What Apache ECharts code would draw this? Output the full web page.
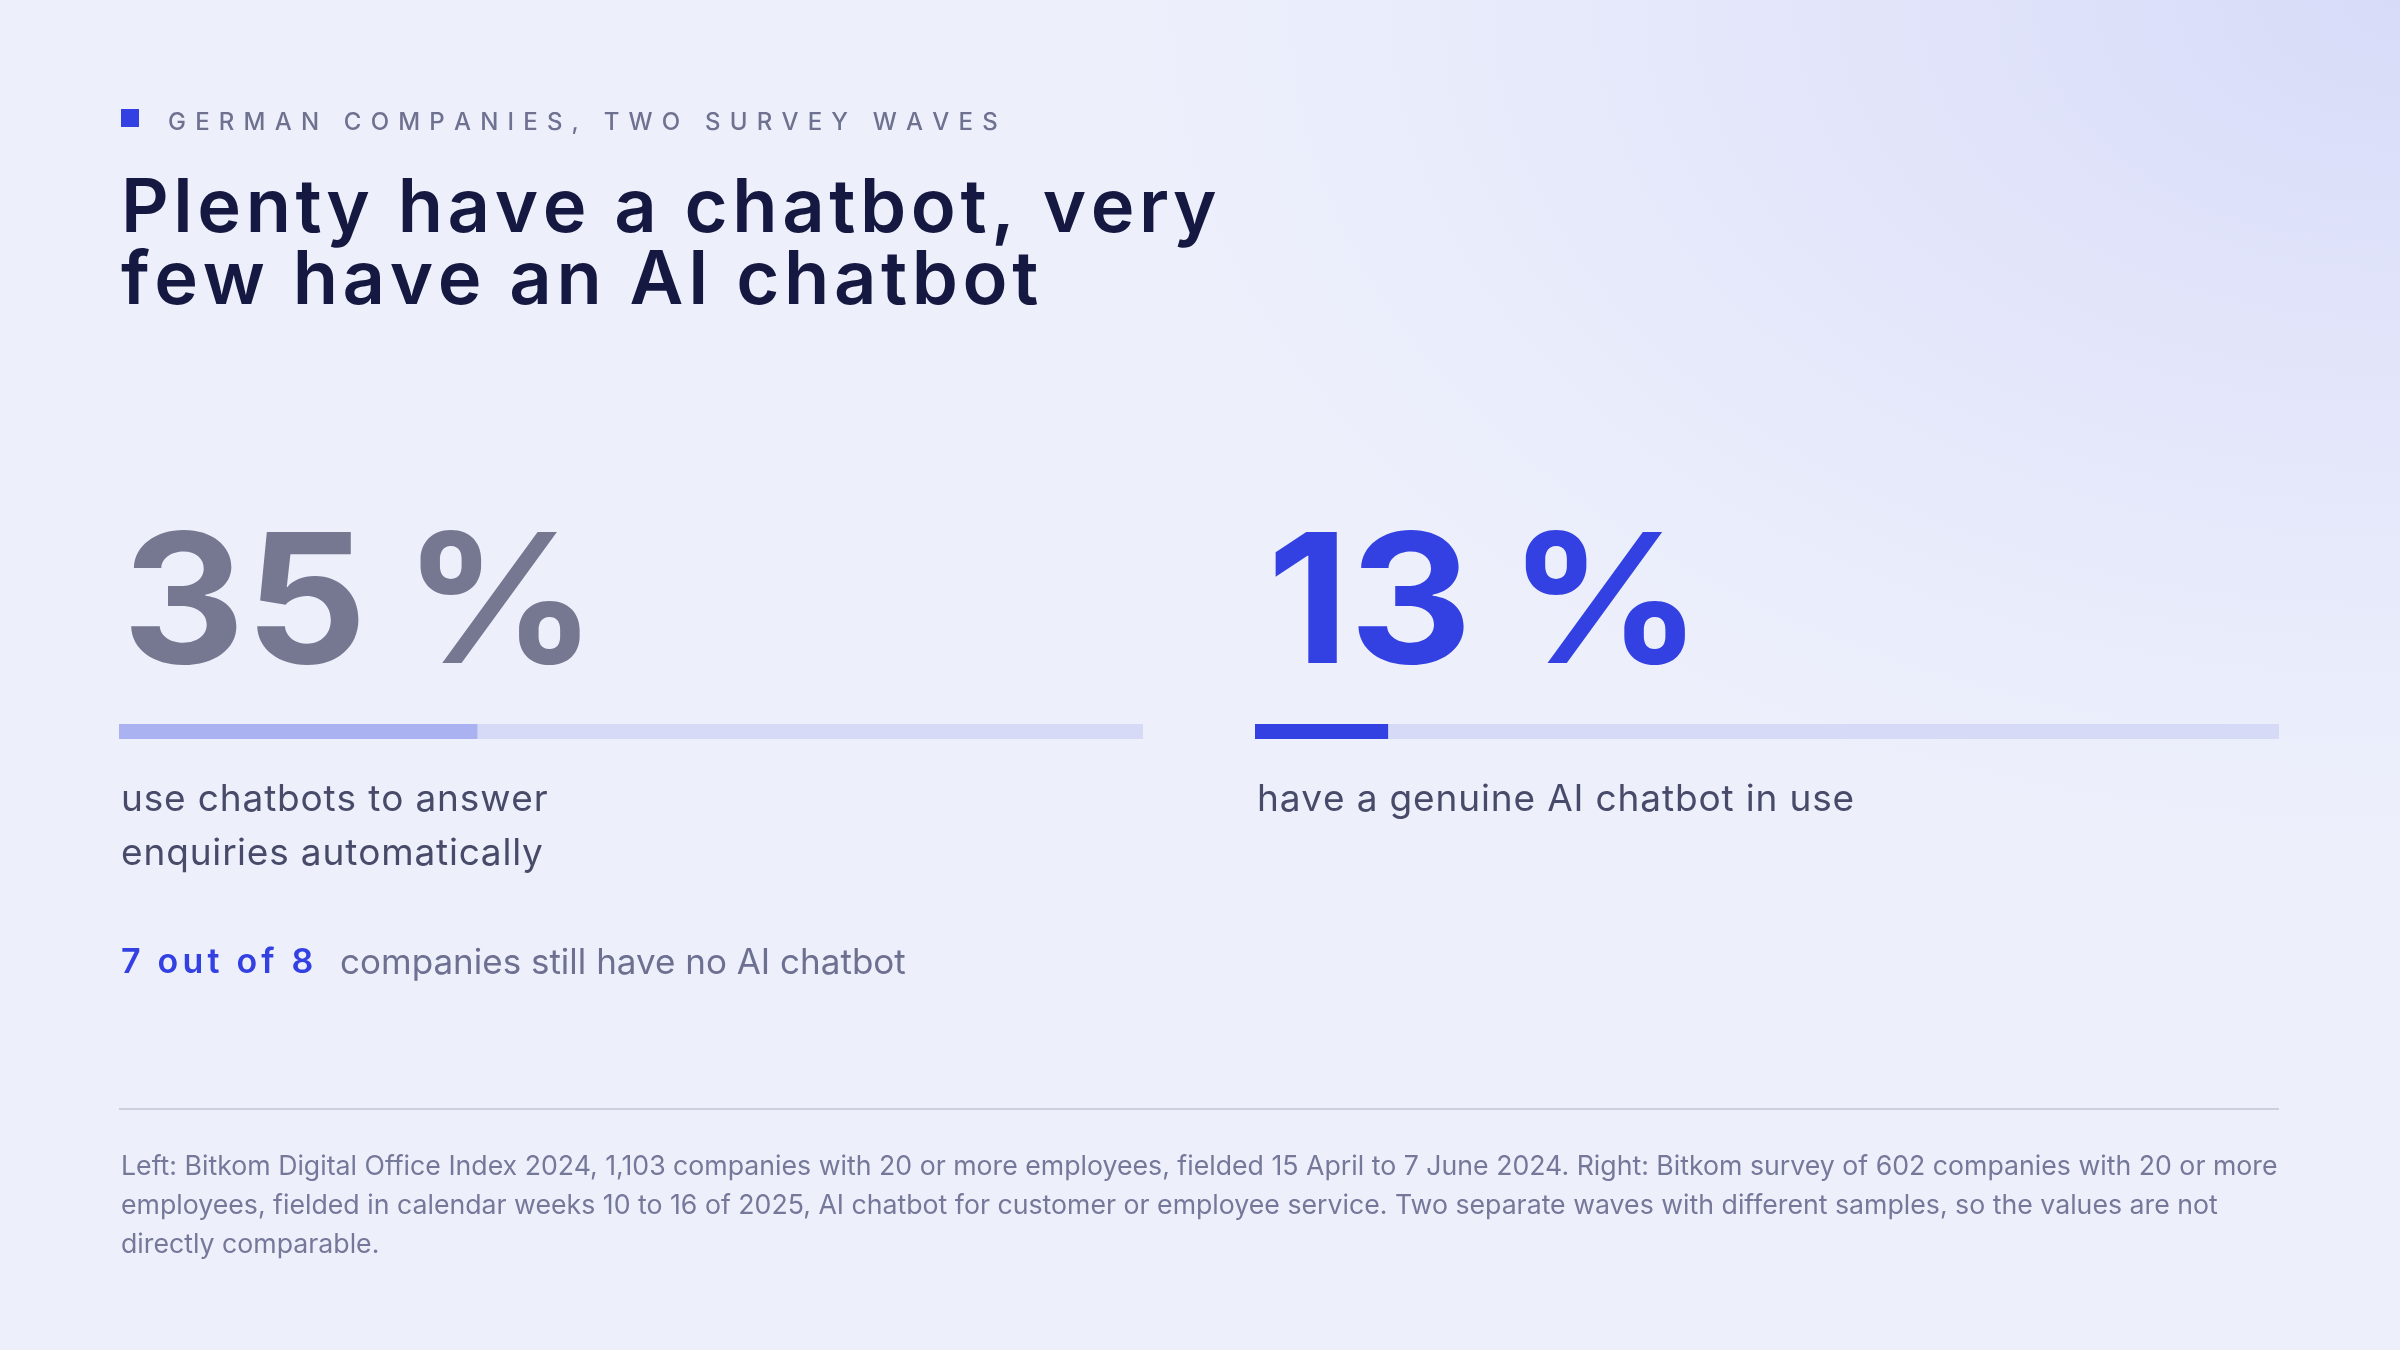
<!DOCTYPE html>
<html>
<head>
<meta charset="utf-8">
<script src="https://cdn.jsdelivr.net/npm/echarts@6/dist/echarts.min.js"></script>
<style>
  html, body { margin: 0; padding: 0; }
  body {
    width: 2400px; height: 1350px; overflow: hidden;
    background-color: #edf0fb;
    background-image: radial-gradient(ellipse 1500px 1000px at 100% 0%, #d7dbf8 0%, #e3e6fa 40%, #edf0fb 85%);
  }
  #chart { width: 2400px; height: 1350px; }
</style>
</head>
<body>
<div id="chart"></div>
<script>
// ---- data ----
const kicker = 'GERMAN COMPANIES, TWO SURVEY WAVES';
const titleLines = ['Plenty have a chatbot, very', 'few have an AI chatbot'];
const shareValues = [35, 13];
const shareUnit = '%';
const shareDescriptions = [
  ['use chatbots to answer', 'enquiries automatically'],
  ['have a genuine AI chatbot in use']
];
const ratioText = '7 out of 8';
const ratioNote = 'companies still have no AI chatbot';
const footnoteLines = [
  'Left: Bitkom Digital Office Index 2024, 1,103 companies with 20 or more employees, fielded 15 April to 7 June 2024. Right: Bitkom survey of 602 companies with 20 or more',
  'employees, fielded in calendar weeks 10 to 16 of 2025, AI chatbot for customer or employee service. Two separate waves with different samples, so the values are not',
  'directly comparable.'
];

// ---- styling ----
const FONT = 'Inter, "Noto Sans", sans-serif';
const BLUE = '#3340e2';
const GREY_NUM = '#767892';
const barColors = ['#aab2f1', BLUE];
const numColors = [GREY_NUM, BLUE];
const TRACK = '#d6daf6';

// rich-text letter spacing helper
function tracked(str, key) {
  return str.split('').map(ch => '{' + key + '|' + ch + '}').join('');
}

const chart = echarts.init(document.getElementById('chart'), null, { renderer: 'canvas', width: 2400, height: 1350 });

const colLeft = [121, 1257];
const numLeft = [122, 1267];
const barLeft = [119, 1255];
const barWidthPx = 1024;

const grids = [], xAxes = [], yAxes = [], series = [];
shareValues.forEach((v, i) => {
  grids.push({ left: barLeft[i], top: 724, width: barWidthPx, height: 15, containLabel: false });
  xAxes.push({ type: 'value', min: 0, max: 100, gridIndex: i, show: false });
  yAxes.push({ type: 'category', data: ['share'], gridIndex: i, show: false });
  series.push({
    type: 'bar', xAxisIndex: i, yAxisIndex: i, data: [v], barWidth: 15,
    showBackground: true, backgroundStyle: { color: TRACK },
    itemStyle: { color: barColors[i] }, silent: true, animation: false
  });
});

const graphics = [];
// kicker
graphics.push({ type: 'rect', shape: { x: 121, y: 109, width: 18, height: 18 }, style: { fill: BLUE } });
graphics.push({
  type: 'text', x: 168, y: 123,
  style: {
    text: tracked(kicker, 'k'), verticalAlign: 'middle',
    rich: { k: { fontFamily: FONT, fontSize: 24, fontWeight: 500, fill: '#6f7190', padding: [0, 9.2, 0, 0] } }
  }
});
// title
titleLines.forEach((t, j) => {
  graphics.push({
    type: 'text', x: 121, y: 210 + j * 72,
    style: {
      text: tracked(t, 't'), verticalAlign: 'middle',
      rich: { t: { fontFamily: FONT, fontSize: 74, fontWeight: 600, fill: '#151840', padding: [0, 4.6, 0, 0] } }
    }
  });
});
// big numbers, descriptions
shareValues.forEach((v, i) => {
  graphics.push({
    type: 'text', x: numLeft[i], y: 609, scaleX: 1.06,
    style: {
      text: '{n|' + v + '}{p|' + shareUnit + '}', verticalAlign: 'middle',
      rich: {
        n: { fontFamily: FONT, fontSize: 180, fontWeight: 700, fill: numColors[i], padding: [0, 34, 0, 0] },
        p: { fontFamily: FONT, fontSize: 180, fontWeight: 700, fill: numColors[i] }
      }
    }
  });
  shareDescriptions[i].forEach((line, j) => {
    graphics.push({
      type: 'text', x: colLeft[i], y: 800 + j * 54,
      style: {
        text: tracked(line, 'd'), verticalAlign: 'middle',
        rich: { d: { fontFamily: FONT, fontSize: 37, fontWeight: 400, fill: '#474a68', padding: [0, 0.85, 0, 0] } }
      }
    });
  });
});
// ratio line
graphics.push({
  type: 'text', x: 121, y: 963,
  style: {
    text: tracked(ratioText, 'r'), verticalAlign: 'middle',
    rich: { r: { fontFamily: FONT, fontSize: 34, fontWeight: 600, fill: BLUE, padding: [0, 4.2, 0, 0] } }
  }
});
graphics.push({
  type: 'text', x: 340, y: 963,
  style: { text: ratioNote, fontFamily: FONT, fontSize: 35, fontWeight: 400, fill: '#6d7090', verticalAlign: 'middle' }
});
// divider
graphics.push({ type: 'line', shape: { x1: 119, y1: 1109, x2: 2279, y2: 1109 }, style: { stroke: '#cdcede', lineWidth: 2 } });
// footnote
footnoteLines.forEach((line, j) => {
  graphics.push({
    type: 'text', x: 121, y: 1167 + j * 39,
    style: { text: line, fontFamily: FONT, fontSize: 26.7, fontWeight: 400, fill: '#76789a', verticalAlign: 'middle' }
  });
});

chart.setOption({
  backgroundColor: 'transparent',
  animation: false,
  grid: grids, xAxis: xAxes, yAxis: yAxes, series: series,
  graphic: graphics
});
</script>
</body>
</html>
